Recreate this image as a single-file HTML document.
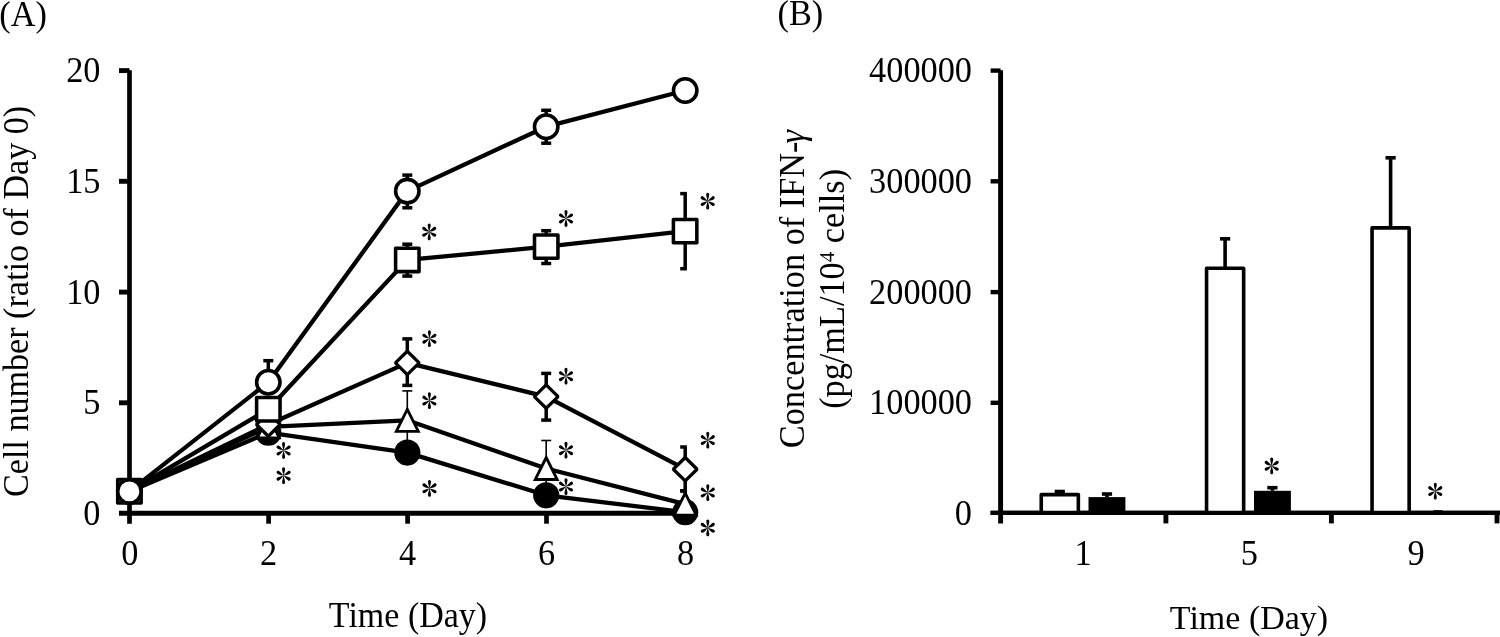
<!DOCTYPE html>
<html><head><meta charset="utf-8"><title>Figure</title>
<style>html,body{margin:0;padding:0;background:#fff;}body{width:1500px;height:637px;overflow:hidden;font-family:"Liberation Serif",serif;}svg{display:block;will-change:transform;}text{font-family:"Liberation Serif",serif;fill:#000;}</style></head><body>
<svg width="1500" height="637" viewBox="0 0 1500 637">
<text transform="translate(-0.7,25.8) scale(1,1.055)" font-size="34.3">(A)</text>
<text transform="translate(777.5,24.7) scale(1,1.055)" font-size="34.3">(B)</text>
<g stroke="#000" stroke-width="4.7" fill="none">
<line x1="129.5" y1="70.3" x2="129.5" y2="523.7"/>
<line x1="119" y1="513.25" x2="687" y2="513.25" stroke-width="4.9"/>
<line x1="119" y1="402.8" x2="129.5" y2="402.8" stroke-width="4.9"/>
<line x1="119" y1="292.1" x2="129.5" y2="292.1" stroke-width="4.9"/>
<line x1="119" y1="181.3" x2="129.5" y2="181.3" stroke-width="4.9"/>
<line x1="119" y1="70.6" x2="129.5" y2="70.6" stroke-width="4.9"/>
<line x1="268.6" y1="513.6" x2="268.6" y2="523.7"/>
<line x1="407.6" y1="513.6" x2="407.6" y2="523.7"/>
<line x1="546.5" y1="513.6" x2="546.5" y2="523.7"/>
<line x1="685.5" y1="513.6" x2="685.5" y2="523.7"/>
</g>
<text transform="translate(100.5,525.1) scale(1,1.055)" font-size="34.3" text-anchor="end">0</text>
<text transform="translate(100.5,414.4) scale(1,1.055)" font-size="34.3" text-anchor="end">5</text>
<text transform="translate(100.5,303.7) scale(1,1.055)" font-size="34.3" text-anchor="end">10</text>
<text transform="translate(100.5,192.9) scale(1,1.055)" font-size="34.3" text-anchor="end">15</text>
<text transform="translate(100.5,82.2) scale(1,1.055)" font-size="34.3" text-anchor="end">20</text>
<text transform="translate(129.7,564.9) scale(1,1.055)" font-size="34.3" text-anchor="middle">0</text>
<text transform="translate(268.6,564.9) scale(1,1.055)" font-size="34.3" text-anchor="middle">2</text>
<text transform="translate(407.6,564.9) scale(1,1.055)" font-size="34.3" text-anchor="middle">4</text>
<text transform="translate(546.5,564.9) scale(1,1.055)" font-size="34.3" text-anchor="middle">6</text>
<text transform="translate(685.5,564.9) scale(1,1.055)" font-size="34.3" text-anchor="middle">8</text>
<text transform="translate(408.0,626.9) scale(1,1.055)" font-size="34.0" text-anchor="middle">Time (Day)</text>
<text transform="translate(28.4,301.4) rotate(-90) scale(1,1.055)" font-size="34.1" text-anchor="middle">Cell number (ratio of Day 0)</text>
<polyline points="129.4,491.4 268.3,432.7 407.3,452.6 546.2,495.3 685.2,512.2" fill="none" stroke="#000" stroke-width="4.3" stroke-linejoin="round"/>
<circle cx="129.4" cy="491.4" r="13.1" fill="#000"/>
<circle cx="268.3" cy="432.7" r="13.1" fill="#000"/>
<circle cx="407.3" cy="452.6" r="13.1" fill="#000"/>
<circle cx="546.2" cy="495.3" r="13.1" fill="#000"/>
<circle cx="685.2" cy="512.2" r="13.1" fill="#000"/>
<polyline points="129.4,491.4 268.3,426.9 407.3,420.3 546.2,468.5 685.2,504.2" fill="none" stroke="#000" stroke-width="4.3" stroke-linejoin="round"/>
<g stroke="#000" stroke-width="1.6" fill="none"><line x1="407.3" y1="390.9" x2="407.3" y2="447.7"/><line x1="402.3" y1="390.9" x2="412.3" y2="390.9"/><line x1="402.3" y1="447.7" x2="412.3" y2="447.7"/></g>
<g stroke="#000" stroke-width="1.6" fill="none"><line x1="546.2" y1="440.5" x2="546.2" y2="494.0"/><line x1="541.2" y1="440.5" x2="551.2" y2="440.5"/><line x1="541.2" y1="494.0" x2="551.2" y2="494.0"/></g>
<g stroke="#000" stroke-width="3.5" fill="none"><line x1="685.2" y1="490.9" x2="685.2" y2="516.0"/><line x1="680.2" y1="490.9" x2="686.9" y2="490.9"/><line x1="680.2" y1="516.0" x2="686.9" y2="516.0"/></g>
<path d="M129.4,480.4 L140.4,502.4 L118.4,502.4 Z" fill="#fff" stroke="#000" stroke-width="2.8" stroke-linejoin="miter" stroke-miterlimit="10"/>
<path d="M268.3,415.9 L279.3,437.9 L257.3,437.9 Z" fill="#fff" stroke="#000" stroke-width="2.8" stroke-linejoin="miter" stroke-miterlimit="10"/>
<path d="M407.3,409.3 L418.3,431.3 L396.3,431.3 Z" fill="#fff" stroke="#000" stroke-width="2.8" stroke-linejoin="miter" stroke-miterlimit="10"/>
<path d="M546.2,457.5 L557.2,479.5 L535.2,479.5 Z" fill="#fff" stroke="#000" stroke-width="2.8" stroke-linejoin="miter" stroke-miterlimit="10"/>
<path d="M685.2,493.2 L696.2,515.2 L674.2,515.2 Z" fill="#fff" stroke="#000" stroke-width="2.8" stroke-linejoin="miter" stroke-miterlimit="10"/>
<polyline points="129.4,491.4 268.3,424.5 407.3,362.9 546.2,396.6 685.2,469.2" fill="none" stroke="#000" stroke-width="4.3" stroke-linejoin="round"/>
<g stroke="#000" stroke-width="3.5" fill="none"><line x1="407.3" y1="338.9" x2="407.3" y2="385.4"/><line x1="402.3" y1="338.9" x2="412.3" y2="338.9"/><line x1="402.3" y1="385.4" x2="412.3" y2="385.4"/></g>
<g stroke="#000" stroke-width="3.5" fill="none"><line x1="546.2" y1="373.4" x2="546.2" y2="420.1"/><line x1="541.2" y1="373.4" x2="551.2" y2="373.4"/><line x1="541.2" y1="420.1" x2="551.2" y2="420.1"/></g>
<g stroke="#000" stroke-width="3.5" fill="none"><line x1="685.2" y1="447.0" x2="685.2" y2="490.9"/><line x1="680.2" y1="447.0" x2="686.9" y2="447.0"/><line x1="680.2" y1="490.9" x2="686.9" y2="490.9"/></g>
<path d="M129.4,479.7 L141.3,491.4 L129.4,503.1 L117.5,491.4 Z" fill="#fff" stroke="#000" stroke-width="3.3" stroke-linejoin="bevel"/>
<path d="M268.3,412.8 L280.2,424.5 L268.3,436.2 L256.4,424.5 Z" fill="#fff" stroke="#000" stroke-width="3.3" stroke-linejoin="bevel"/>
<path d="M407.3,351.2 L419.2,362.9 L407.3,374.6 L395.4,362.9 Z" fill="#fff" stroke="#000" stroke-width="3.3" stroke-linejoin="bevel"/>
<path d="M546.2,384.9 L558.1,396.6 L546.2,408.3 L534.3,396.6 Z" fill="#fff" stroke="#000" stroke-width="3.3" stroke-linejoin="bevel"/>
<path d="M685.2,457.5 L697.1,469.2 L685.2,480.9 L673.3,469.2 Z" fill="#fff" stroke="#000" stroke-width="3.3" stroke-linejoin="bevel"/>
<polyline points="129.4,491.4 268.3,409.2 407.3,259.9 546.2,246.7 685.2,231.2" fill="none" stroke="#000" stroke-width="4.3" stroke-linejoin="round"/>
<g stroke="#000" stroke-width="3.5" fill="none"><line x1="407.3" y1="244.2" x2="407.3" y2="276.1"/><line x1="402.3" y1="244.2" x2="412.3" y2="244.2"/><line x1="402.3" y1="276.1" x2="412.3" y2="276.1"/></g>
<g stroke="#000" stroke-width="3.5" fill="none"><line x1="546.2" y1="230.7" x2="546.2" y2="263.5"/><line x1="541.2" y1="230.7" x2="551.2" y2="230.7"/><line x1="541.2" y1="263.5" x2="551.2" y2="263.5"/></g>
<g stroke="#000" stroke-width="3.5" fill="none"><line x1="685.2" y1="193.6" x2="685.2" y2="268.7"/><line x1="680.2" y1="193.6" x2="686.9" y2="193.6"/><line x1="680.2" y1="268.7" x2="686.9" y2="268.7"/></g>
<rect x="117.7" y="479.6" width="23.44" height="23.44" fill="#fff" stroke="#000" stroke-width="3.55" stroke-linejoin="round"/>
<rect x="256.6" y="397.5" width="23.44" height="23.44" fill="#fff" stroke="#000" stroke-width="3.55" stroke-linejoin="round"/>
<rect x="395.6" y="248.2" width="23.44" height="23.44" fill="#fff" stroke="#000" stroke-width="3.55" stroke-linejoin="round"/>
<rect x="534.5" y="234.9" width="23.44" height="23.44" fill="#fff" stroke="#000" stroke-width="3.55" stroke-linejoin="round"/>
<rect x="673.4" y="219.4" width="23.44" height="23.44" fill="#fff" stroke="#000" stroke-width="3.55" stroke-linejoin="round"/>
<polyline points="129.4,491.4 268.3,382.2 407.3,191.1 546.2,126.7 685.2,90.5" fill="none" stroke="#000" stroke-width="4.3" stroke-linejoin="round"/>
<g stroke="#000" stroke-width="3.5" fill="none"><line x1="268.3" y1="360.7" x2="268.3" y2="381.0"/><line x1="263.3" y1="360.7" x2="273.3" y2="360.7"/></g>
<g stroke="#000" stroke-width="3.5" fill="none"><line x1="407.3" y1="175.1" x2="407.3" y2="207.8"/><line x1="402.3" y1="175.1" x2="412.3" y2="175.1"/><line x1="402.3" y1="207.8" x2="412.3" y2="207.8"/></g>
<g stroke="#000" stroke-width="3.5" fill="none"><line x1="546.2" y1="110.3" x2="546.2" y2="143.2"/><line x1="541.2" y1="110.3" x2="551.2" y2="110.3"/><line x1="541.2" y1="143.2" x2="551.2" y2="143.2"/></g>
<circle cx="129.4" cy="491.4" r="11.72" fill="#fff" stroke="#000" stroke-width="3.55"/>
<circle cx="268.3" cy="382.2" r="11.72" fill="#fff" stroke="#000" stroke-width="3.55"/>
<circle cx="407.3" cy="191.1" r="11.72" fill="#fff" stroke="#000" stroke-width="3.55"/>
<circle cx="546.2" cy="126.7" r="11.72" fill="#fff" stroke="#000" stroke-width="3.55"/>
<circle cx="685.2" cy="90.5" r="11.72" fill="#fff" stroke="#000" stroke-width="3.55"/>
<defs><g id="ast" transform="scale(0.94,1)"><path d="M0,0.3 C-0.5,-2 -1.6,-4.6 -1.6,-6.6 C-1.6,-7.7 -0.9,-8.4 0,-8.4 C0.9,-8.4 1.6,-7.7 1.6,-6.6 C1.6,-4.6 0.5,-2 0,0.3 Z" transform="rotate(0)"/><path d="M0,0.3 C-0.5,-2 -1.6,-4.6 -1.6,-6.6 C-1.6,-7.7 -0.9,-8.4 0,-8.4 C0.9,-8.4 1.6,-7.7 1.6,-6.6 C1.6,-4.6 0.5,-2 0,0.3 Z" transform="rotate(60)"/><path d="M0,0.3 C-0.5,-2 -1.6,-4.6 -1.6,-6.6 C-1.6,-7.7 -0.9,-8.4 0,-8.4 C0.9,-8.4 1.6,-7.7 1.6,-6.6 C1.6,-4.6 0.5,-2 0,0.3 Z" transform="rotate(120)"/><path d="M0,0.3 C-0.5,-2 -1.6,-4.6 -1.6,-6.6 C-1.6,-7.7 -0.9,-8.4 0,-8.4 C0.9,-8.4 1.6,-7.7 1.6,-6.6 C1.6,-4.6 0.5,-2 0,0.3 Z" transform="rotate(180)"/><path d="M0,0.3 C-0.5,-2 -1.6,-4.6 -1.6,-6.6 C-1.6,-7.7 -0.9,-8.4 0,-8.4 C0.9,-8.4 1.6,-7.7 1.6,-6.6 C1.6,-4.6 0.5,-2 0,0.3 Z" transform="rotate(240)"/><path d="M0,0.3 C-0.5,-2 -1.6,-4.6 -1.6,-6.6 C-1.6,-7.7 -0.9,-8.4 0,-8.4 C0.9,-8.4 1.6,-7.7 1.6,-6.6 C1.6,-4.6 0.5,-2 0,0.3 Z" transform="rotate(300)"/></g></defs>
<use href="#ast" x="283.6" y="450.5"/>
<use href="#ast" x="283.6" y="475.7"/>
<use href="#ast" x="429.2" y="231.8"/>
<use href="#ast" x="429.4" y="338.7"/>
<use href="#ast" x="429.4" y="400.6"/>
<use href="#ast" x="429.5" y="488.3"/>
<use href="#ast" x="566.0" y="218.5"/>
<use href="#ast" x="566.0" y="376.2"/>
<use href="#ast" x="566.0" y="450.2"/>
<use href="#ast" x="566.0" y="486.6"/>
<use href="#ast" x="707.7" y="201.1"/>
<use href="#ast" x="707.8" y="440.1"/>
<use href="#ast" x="707.8" y="492.6"/>
<use href="#ast" x="707.8" y="527.8"/>
<g stroke="#000" stroke-width="4.7" fill="none">
<line x1="1000.6" y1="70.3" x2="1000.6" y2="523.4" stroke-width="4.9"/>
<line x1="990.6" y1="512.9" x2="1500" y2="512.9" stroke-width="4.4"/>
<line x1="990.6" y1="402.8" x2="1000.6" y2="402.8" stroke-width="4.4"/>
<line x1="990.6" y1="292.1" x2="1000.6" y2="292.1" stroke-width="4.4"/>
<line x1="990.6" y1="181.3" x2="1000.6" y2="181.3" stroke-width="4.4"/>
<line x1="990.6" y1="70.6" x2="1000.6" y2="70.6" stroke-width="4.4"/>
<line x1="1165.9" y1="513" x2="1165.9" y2="523.4" stroke-width="4.9"/>
<line x1="1331.4" y1="513" x2="1331.4" y2="523.4" stroke-width="4.9"/>
<line x1="1497" y1="513" x2="1497" y2="523.4" stroke-width="4.9"/>
</g>
<text transform="translate(972,525.1) scale(1,1.055)" font-size="34.3" text-anchor="end">0</text>
<text transform="translate(972,414.4) scale(1,1.055)" font-size="34.3" text-anchor="end">100000</text>
<text transform="translate(972,303.7) scale(1,1.055)" font-size="34.3" text-anchor="end">200000</text>
<text transform="translate(972,192.9) scale(1,1.055)" font-size="34.3" text-anchor="end">300000</text>
<text transform="translate(972,82.2) scale(1,1.055)" font-size="34.3" text-anchor="end">400000</text>
<text transform="translate(1083,565.0) scale(1,1.02)" font-size="34.3" text-anchor="middle">1</text>
<text transform="translate(1249.4,565.0) scale(1,1.02)" font-size="34.3" text-anchor="middle">5</text>
<text transform="translate(1416,565.0) scale(1,1.02)" font-size="34.3" text-anchor="middle">9</text>
<text transform="translate(1249,629.1) scale(1,1.015)" font-size="34.0" text-anchor="middle">Time (Day)</text>
<text transform="translate(803.7,289.0) rotate(-90) scale(1,1.02)" font-size="34.3" text-anchor="middle">Concentration of IFN-<tspan font-style="italic" dx="-1.8">γ</tspan></text>
<text transform="translate(844.3,288.9) rotate(-90) scale(1,1.02)" font-size="34.3" text-anchor="middle">(pg/mL/10<tspan font-size="21" dy="-10">4</tspan><tspan dy="10"> cells)</tspan></text>
<g stroke="#000" stroke-width="3.6" fill="none"><line x1="1059.8" y1="491.5" x2="1059.8" y2="494.6"/><line x1="1054.7" y1="491.5" x2="1064.9" y2="491.5"/></g>
<rect x="1041.25" y="494.6" width="37.1" height="18.3" fill="#fff" stroke="#000" stroke-width="3.6" stroke-linejoin="round"/>
<g stroke="#000" stroke-width="3.6" fill="none"><line x1="1225.1" y1="238.8" x2="1225.1" y2="268.2"/><line x1="1220.0" y1="238.8" x2="1230.2" y2="238.8"/></g>
<rect x="1206.55" y="268.2" width="37.1" height="244.7" fill="#fff" stroke="#000" stroke-width="3.6" stroke-linejoin="round"/>
<g stroke="#000" stroke-width="3.6" fill="none"><line x1="1390.6" y1="157.8" x2="1390.6" y2="227.9"/><line x1="1385.5" y1="157.8" x2="1395.7" y2="157.8"/></g>
<rect x="1372.05" y="227.9" width="37.1" height="285.0" fill="#fff" stroke="#000" stroke-width="3.6" stroke-linejoin="round"/>
<g stroke="#000" stroke-width="3.6" fill="none"><line x1="1107.0" y1="494.0" x2="1107.0" y2="497.1"/><line x1="1101.9" y1="494.0" x2="1112.1" y2="494.0"/></g>
<rect x="1088.5" y="497.1" width="36.9" height="16.5" fill="#000"/>
<g stroke="#000" stroke-width="3.6" fill="none"><line x1="1272.4" y1="487.7" x2="1272.4" y2="490.8"/><line x1="1267.3" y1="487.7" x2="1277.5" y2="487.7"/></g>
<rect x="1254.0" y="490.8" width="36.9" height="22.8" fill="#000"/>
<line x1="1433.2" y1="510.6" x2="1442.6" y2="510.6" stroke="#222" stroke-width="1.2"/>
<use href="#ast" x="1271.7" y="465.8"/>
<use href="#ast" x="1435.3" y="491.1"/>
<line x1="990.6" y1="512.9" x2="1500" y2="512.9" stroke="#000" stroke-width="4.4"/>
</svg></body></html>
